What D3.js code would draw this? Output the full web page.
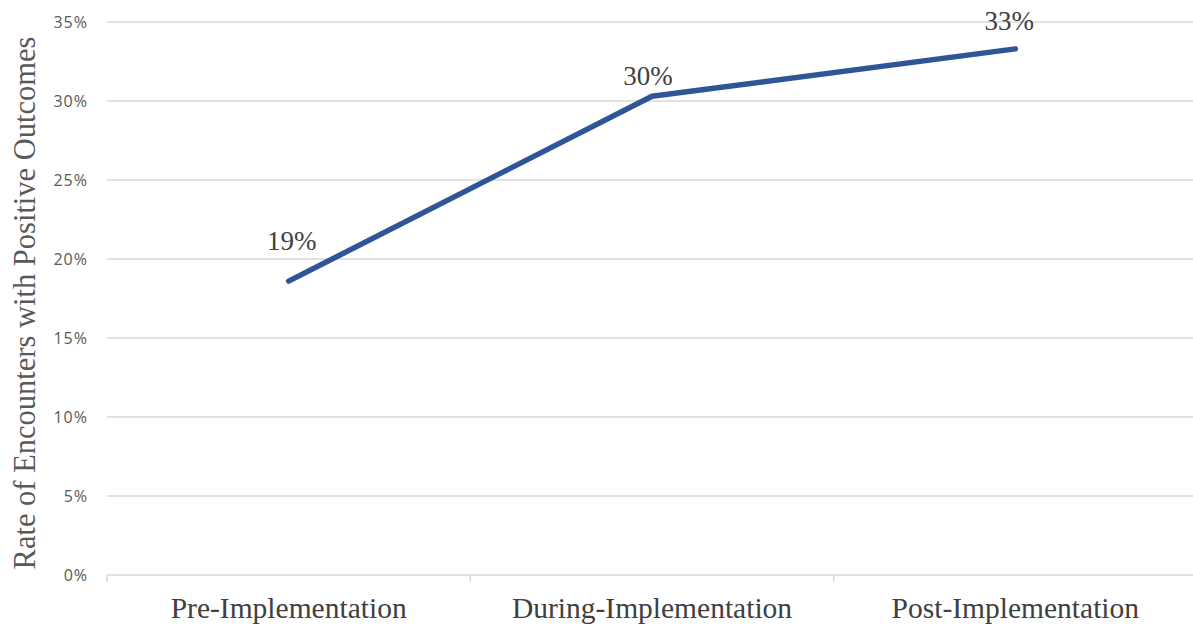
<!DOCTYPE html>
<html>
<head>
<meta charset="utf-8">
<script src="https://cdn.jsdelivr.net/npm/d3@7"></script>
<style>
  html, body { margin: 0; padding: 0; background: #fff; }
  svg { display: block; }
</style>
</head>
<body>
<svg id="chart" width="1193" height="630"></svg>
<script>
// Phases of the rollout and the share of encounters with positive outcomes
const phases = ["Pre-Implementation", "During-Implementation", "Post-Implementation"];
const rates = [0.186, 0.303, 0.333];
const yTicks = [0, 0.05, 0.10, 0.15, 0.20, 0.25, 0.30, 0.35];
const yTitle = "Rate of Encounters with Positive Outcomes";

const svg = d3.select("#chart");
const W = 1193, H = 630;
const plotLeft = 107, plotRight = 1197, plotTop = 22, plotBottom = 575;

const x = d3.scaleBand().domain(phases).range([plotLeft, plotRight]).padding(0);
const y = d3.scaleLinear().domain([0, 0.35]).range([plotBottom, plotTop]);

const grid = "#d9d9d9";
const serif = "'Liberation Serif', 'Times New Roman', serif";

// horizontal gridlines
svg.append("g")
  .selectAll("line")
  .data(yTicks.filter(d => d > 0))
  .join("line")
  .attr("x1", plotLeft).attr("x2", W)
  .attr("y1", d => y(d)).attr("y2", d => y(d))
  .attr("stroke", grid).attr("stroke-width", 1.5);

// y axis labels
const yAxis = svg.append("g")
  .attr("transform", `translate(${plotLeft},0)`)
  .call(d3.axisLeft(y).tickValues(yTicks).tickFormat(d3.format(".0%")).tickSize(0).tickPadding(19));
yAxis.select(".domain").remove();
yAxis.selectAll("text")
  .attr("fill", "#595959")
  .style("font-family", "'Open Sans', sans-serif")
  .style("font-size", "16px")
  .style("letter-spacing", "1px");

// x axis baseline with category separators
const xAxis = svg.append("g")
  .attr("transform", `translate(0,${plotBottom})`)
  .call(d3.axisBottom(x).tickSize(0).tickPadding(22));
xAxis.select(".domain").attr("stroke", grid).attr("stroke-width", 1.5)
  .attr("d", `M${plotLeft},0H${W}`);
xAxis.selectAll("text")
  .attr("fill", "#404040")
  .style("font-family", serif)
  .style("font-size", "29.5px");
const bounds = phases.map(p => x(p)).concat([x(phases[phases.length - 1]) + x.bandwidth()]);
xAxis.append("g").selectAll("line")
  .data(bounds.filter(b => b < W))
  .join("line")
  .attr("x1", d => d).attr("x2", d => d)
  .attr("y1", 0).attr("y2", 7)
  .attr("stroke", grid).attr("stroke-width", 1.5);

// the rate line
const cx = p => x(p) + x.bandwidth() / 2;
svg.append("path")
  .datum(phases.map((p, i) => [cx(p), y(rates[i])]))
  .attr("d", d3.line())
  .attr("fill", "none")
  .attr("stroke", "#2f5597")
  .attr("stroke-width", 5.5)
  .attr("stroke-linecap", "round")
  .attr("stroke-linejoin", "round");

// value labels above each point
const labelLift = [31, 11, 19];
const labelShift = [3, -4, -6];
svg.append("g").selectAll("text")
  .data(phases)
  .join("text")
  .attr("x", (p, i) => cx(p) + labelShift[i])
  .attr("y", (p, i) => y(rates[i]) - labelLift[i])
  .attr("text-anchor", "middle")
  .attr("fill", "#404040")
  .style("font-family", serif)
  .style("font-size", "27px")
  .text((p, i) => d3.format(".0%")(rates[i]));

// y axis title
svg.append("text")
  .attr("transform", "translate(35,303) rotate(-90)")
  .attr("text-anchor", "middle")
  .attr("fill", "#595959")
  .style("font-family", serif)
  .style("font-size", "30.5px")
  .text(yTitle);
</script>
</body>
</html>
